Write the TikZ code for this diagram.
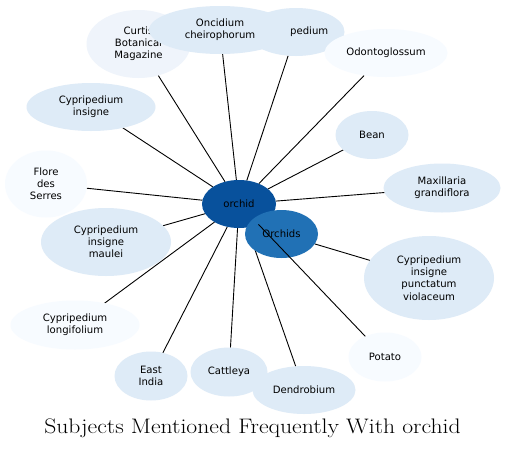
\documentclass[tikz,border=0pt]{standalone}
\usepackage{fontspec}
\newfontfamily\nodefont{DejaVu Sans}
\usetikzlibrary{shapes.geometric,backgrounds}
\definecolor{paleA}{HTML}{F7FBFF}
\definecolor{paleB}{HTML}{EFF4FB}
\definecolor{midB}{HTML}{DEEBF7}
\definecolor{darkB}{HTML}{08519C}
\definecolor{centB}{HTML}{2171B5}
\tikzset{
  x=1pt,y=-1pt,
  bub/.style={ellipse,inner sep=0pt,outer sep=0pt,align=center,
    font=\nodefont\fontsize{10.1}{12.2}\selectfont,text=black},
  edge/.style={draw=black,line width=0.9pt},
}
\begin{document}
\begin{tikzpicture}
\useasboundingbox (0,0) rectangle (506,450);
\node[bub,fill=paleB,minimum width=104,minimum height=68] (curtis) at (138.5,44) {Curtis\\Botanical\\Magazine};
\node[bub,fill=midB,minimum width=97,minimum height=48] (cyp) at (296,32) {Cypripedium};
\node[bub,fill=midB,minimum width=142,minimum height=48] (onc) at (220,30) {Oncidium\\cheirophorum};
\node[bub,fill=paleA,minimum width=123,minimum height=48] (odo) at (386,53) {Odontoglossum};
\node[bub,fill=midB,minimum width=129,minimum height=48] (cins) at (91,107) {Cypripedium\\insigne};
\node[bub,fill=midB,minimum width=73,minimum height=48] (bean) at (372,135) {Bean};
\node[bub,fill=paleA,minimum width=82,minimum height=67] (flore) at (46,184) {Flore\\des\\Serres};
\node[bub,fill=midB,minimum width=117,minimum height=49] (maxi) at (442,188) {Maxillaria\\grandiflora};
\node[bub,fill=midB,minimum width=130,minimum height=68] (maul) at (106,242) {Cypripedium\\insigne\\maulei};
\node[bub,fill=midB,minimum width=130,minimum height=84] (punc) at (429,278) {Cypripedium\\insigne\\punctatum\\violaceum};
\node[bub,fill=paleA,minimum width=129,minimum height=49] (longi) at (75,325) {Cypripedium\\longifolium};
\node[bub,fill=midB,minimum width=73,minimum height=49] (east) at (151,376) {East\\India};
\node[bub,fill=midB,minimum width=77,minimum height=49] (catt) at (229,372) {Cattleya};
\node[bub,fill=midB,minimum width=103,minimum height=48] (dend) at (304,390) {Dendrobium};
\node[bub,fill=paleA,minimum width=73,minimum height=49] (pota) at (385,357) {Potato};
\node[bub,fill=darkB,minimum width=74,minimum height=48] (orchid) at (239,204) {orchid};
\node[bub,fill=centB,minimum width=73,minimum height=48] (orchids) at (281.5,234) {Orchids};
\node[inner sep=0pt] (title) at (252.5,428) {\scalebox{1.127}[1]{\fontsize{21}{25}\selectfont Subjects Mentioned Frequently With orchid}};
\begin{pgfonlayer}{background}
\fill[white] (0,0) rectangle (506,450);
\foreach \t in {curtis,cyp,onc,odo,cins,bean,flore,maxi,maul,longi,east,catt,dend}
  \draw[edge] (orchid) -- (\t);
\draw[edge] (orchids) -- (punc);
\end{pgfonlayer}
\draw[edge] (orchid) -- (pota);
\end{tikzpicture}
\end{document}
